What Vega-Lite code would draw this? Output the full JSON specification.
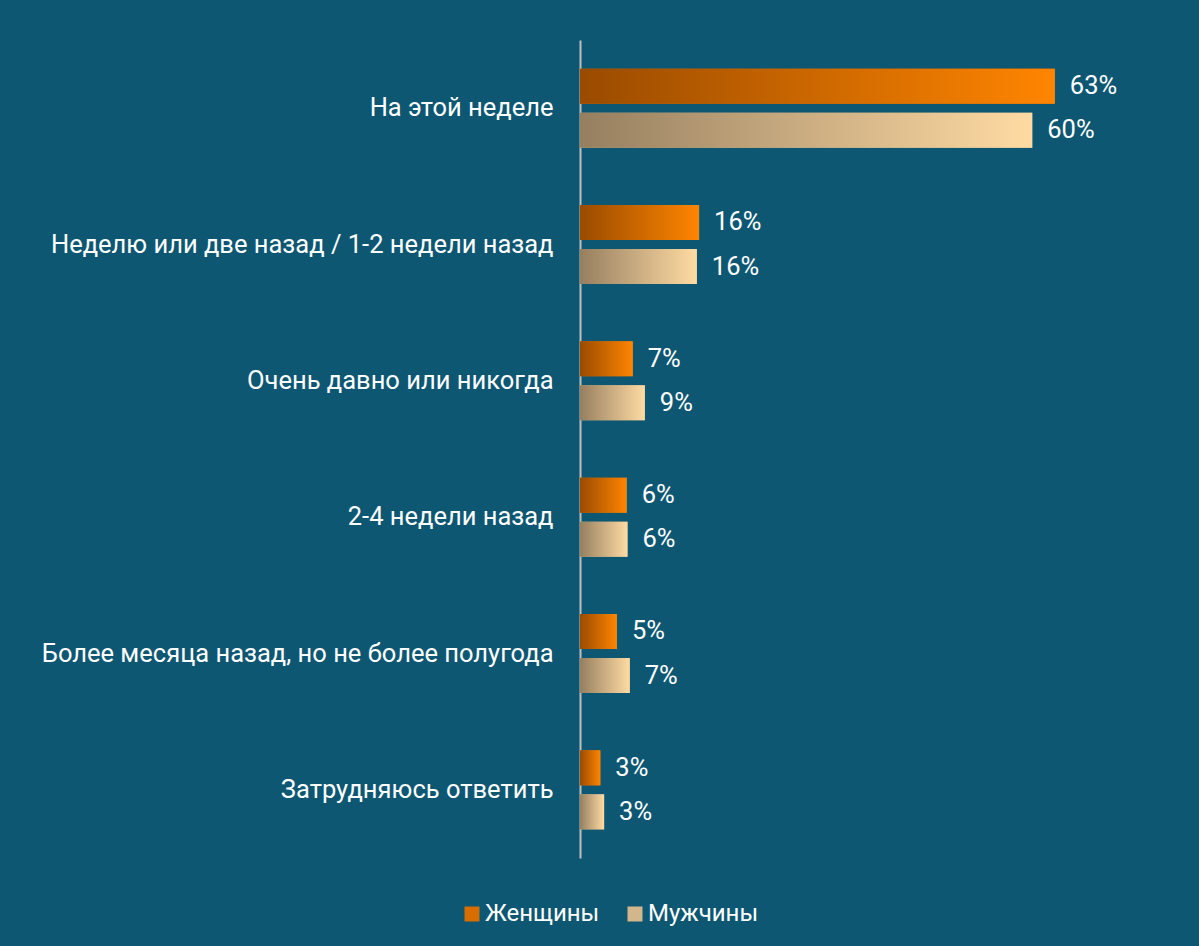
{
  "$schema": "https://vega.github.io/schema/vega-lite/v6.json",
  "autosize": {"type": "none"},
  "width": 603,
  "height": 818,
  "padding": {"left": 580, "top": 40, "right": 16, "bottom": 88},
  "background": "#0E5773",
  "config": {"view": {"stroke": null}, "font": "Roboto"},
  "data": {
    "values": [
      {"cat": "На этой неделе", "sex": "Женщины", "value": 63, "label": "63%"},
      {"cat": "На этой неделе", "sex": "Мужчины", "value": 60, "label": "60%"},
      {"cat": "Неделю или две назад / 1-2 недели назад", "sex": "Женщины", "value": 15.8, "label": "16%"},
      {"cat": "Неделю или две назад / 1-2 недели назад", "sex": "Мужчины", "value": 15.5, "label": "16%"},
      {"cat": "Очень давно или никогда", "sex": "Женщины", "value": 7, "label": "7%"},
      {"cat": "Очень давно или никогда", "sex": "Мужчины", "value": 8.6, "label": "9%"},
      {"cat": "2-4 недели назад", "sex": "Женщины", "value": 6.2, "label": "6%"},
      {"cat": "2-4 недели назад", "sex": "Мужчины", "value": 6.3, "label": "6%"},
      {"cat": "Более месяца назад, но не более полугода", "sex": "Женщины", "value": 4.9, "label": "5%"},
      {"cat": "Более месяца назад, но не более полугода", "sex": "Мужчины", "value": 6.6, "label": "7%"},
      {"cat": "Затрудняюсь ответить", "sex": "Женщины", "value": 2.7, "label": "3%"},
      {"cat": "Затрудняюсь ответить", "sex": "Мужчины", "value": 3.2, "label": "3%"}
    ]
  },
  "encoding": {
    "y": {
      "field": "cat", "type": "nominal", "sort": null,
      "scale": {"paddingInner": 0.42, "paddingOuter": 0.21},
      "axis": {
        "title": null, "ticks": false, "domainColor": "#BFBFBF", "domainWidth": 2,
        "labelColor": "#FFFFFF", "labelFontSize": 25.5, "labelPadding": 27, "labelLimit": 700
      }
    },
    "yOffset": {"field": "sex", "type": "nominal", "scale": {"paddingInner": 0.2045, "paddingOuter": 0}},
    "x": {"field": "value", "type": "quantitative", "scale": {"domain": [0, 80]}, "axis": null}
  },
  "layer": [
    {
      "mark": {"type": "bar"},
      "encoding": {
        "color": {
          "field": "sex", "type": "nominal",
          "scale": {"domain": ["Женщины", "Мужчины"], "range": ["#D96E00", "#D4B68D"]},
          "legend": {
            "title": null, "orient": "none", "legendX": -120, "legendY": 862, "direction": "horizontal",
            "symbolType": "square", "symbolSize": 225, "symbolStrokeWidth": 0, "symbolOpacity": 1,
            "labelColor": "#FFFFFF", "labelFontSize": 24, "labelOffset": 1, "columnPadding": 23
          }
        }
      }
    },
    {
      "transform": [{"filter": "datum.sex == 'Женщины'"}],
      "mark": {
        "type": "bar",
        "color": {"gradient": "linear", "x1": 0, "y1": 0, "x2": 1, "y2": 0, "stops": [{"offset": 0, "color": "#9A4B00"}, {"offset": 1, "color": "#FF8500"}]}
      }
    },
    {
      "transform": [{"filter": "datum.sex == 'Мужчины'"}],
      "mark": {
        "type": "bar",
        "color": {"gradient": "linear", "x1": 0, "y1": 0, "x2": 1, "y2": 0, "stops": [{"offset": 0, "color": "#967F60"}, {"offset": 1, "color": "#FFDBA3"}]}
      }
    },
    {
      "mark": {"type": "text", "align": "left", "dx": 15, "color": "#FFFFFF", "fontSize": 25.5},
      "encoding": {"text": {"field": "label"}}
    }
  ]
}
